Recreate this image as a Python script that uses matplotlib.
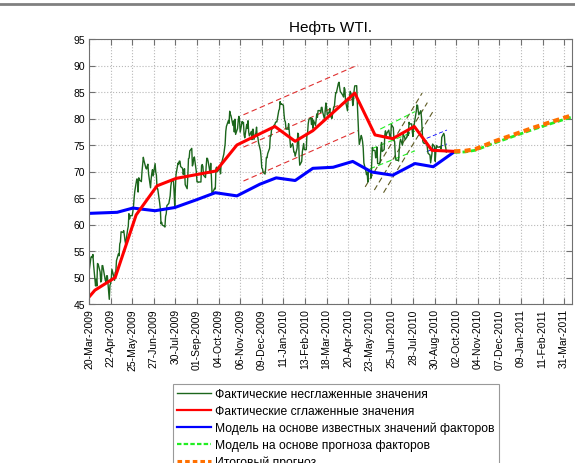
import numpy as np
import pandas as pd
import matplotlib
matplotlib.use('Agg')
import matplotlib.pyplot as plt
from matplotlib.lines import Line2D

plt.rcParams['font.family'] = ['Liberation Sans', 'DejaVu Sans']

title = 'Нефть WTI.'
start_date = '2009-03-20'

# daily (business-day) unsmoothed prices from 20-Mar-2009
wti_unsmoothed = [
    51.06,
    53.80, 53.98, 53.77, 54.34, 52.38,
    48.41, 49.66, 48.39, 52.64, 52.51,
    51.05, 49.15, 49.38, 52.24, 52.24,
    50.05, 49.41, 49.25, 50.33, 50.33,
    45.88, 48.55, 48.86, 49.62, 51.55,
    50.14, 49.49, 50.97, 51.12, 53.20,
    54.47, 54.11, 56.34, 56.71, 58.63,
    58.50, 58.85, 58.02, 56.98, 56.34,
    59.03, 59.65, 62.04, 61.05, 61.67,
    61.67, 62.45, 63.45, 65.08, 66.31,
    68.58, 68.55, 66.12, 68.81, 68.44,
    68.09, 70.01, 71.33, 72.68, 72.04,
    70.62, 70.47, 71.03, 71.37, 69.55,
    66.93, 68.67, 69.66, 70.34, 69.16,
    71.49, 69.89, 69.31, 66.73, 66.73,
    64.05, 62.93, 60.14, 60.41, 59.89,
    59.69, 59.52, 61.54, 62.02, 63.56,
    63.98, 64.72, 65.40, 67.20, 68.05,
    68.38, 66.13, 63.35, 66.94, 69.45,
    71.58, 71.42, 71.97, 71.94, 70.93,
    70.60, 69.45, 70.16, 70.52, 67.51,
    66.75, 69.19, 72.42, 72.54, 73.89,
    74.37, 71.05, 71.43, 72.49, 72.74,
    69.96, 68.05, 68.05, 67.96, 68.02,
    68.02, 71.10, 71.31, 70.94, 69.29,
    68.86, 70.93, 72.51, 72.47, 71.95,
    69.71, 71.55, 68.97, 65.89, 66.02,
    66.84, 66.71, 70.61, 70.82, 69.95,
    70.41, 70.88, 69.57, 71.69, 71.77,
    73.27, 74.15, 75.18, 77.58, 78.53,
    79.61, 79.09, 81.37, 80.81, 80.50,
    78.68, 79.55, 77.46, 79.87, 77.00,
    78.13, 79.60, 80.40, 79.62, 77.43,
    79.43, 79.05, 79.28, 76.94, 76.35,
    78.90, 78.14, 79.58, 77.46, 76.72,
    77.56, 76.02, 77.96, 77.96, 76.05,
    77.28, 78.37, 76.60, 76.46, 75.47,
    73.93, 72.62, 70.67, 70.54, 69.87,
    69.51, 70.69, 72.66, 72.58, 73.36,
    74.40, 76.67, 76.67, 78.05, 78.05,
    78.77, 78.87, 79.28, 79.36, 79.36,
    81.51, 81.77, 83.18, 82.66, 82.75,
    82.52, 80.79, 79.65, 79.39, 78.00,
    78.00, 79.02, 77.62, 76.08, 74.54,
    75.26, 74.71, 73.67, 73.64, 72.89,
    74.43, 77.23, 76.98, 73.14, 71.19,
    71.89, 73.75, 74.52, 75.28, 74.13,
    74.13, 77.01, 77.33, 79.06, 79.81,
    80.16, 78.86, 80.00, 78.17, 79.66,
    78.70, 79.68, 80.87, 80.21, 81.50,
    81.49, 81.16, 82.09, 82.11, 81.24,
    79.80, 81.70, 82.93, 82.20, 80.68,
    81.25, 81.91, 80.31, 80.81, 80.00,
    82.17, 82.37, 83.76, 84.87, 84.87,
    86.62, 86.84, 85.84, 85.06, 84.92,
    84.34, 84.05, 85.84, 85.51, 83.24,
    81.45, 83.85, 83.68, 83.70, 85.12,
    84.20, 82.44, 83.22, 85.17, 86.15,
    86.19, 82.74, 79.97, 77.11, 75.11,
    76.80, 76.37, 75.65, 74.38, 71.61,
    70.08, 69.41, 69.87, 68.01, 70.04,
    70.21, 68.75, 71.51, 74.55, 73.97,
    73.97, 72.58, 72.86, 74.61, 71.51,
    71.44, 71.99, 74.38, 75.48, 73.78,
    74.12, 76.94, 77.67, 76.72, 77.18,
    77.81, 77.12, 76.35, 76.51, 78.86,
    78.26, 75.94, 75.63, 72.95, 72.14,
    72.14, 71.98, 74.07, 75.45, 76.09,
    74.96, 77.05, 76.71, 76.62, 76.00,
    76.54, 77.50, 76.80, 79.29, 78.98,
    78.98, 77.50, 76.60, 78.36, 78.95,
    81.34, 82.55, 82.49, 81.47, 80.70,
    81.48, 80.25, 78.02, 75.74, 75.39,
    75.24, 75.77, 75.42, 74.43, 73.46,
    73.10, 71.63, 72.52, 73.36, 75.17,
    74.70, 71.92, 73.91, 74.91, 74.60,
    74.60, 74.66, 74.65, 74.25, 76.45,
    77.19, 76.80, 75.02, 74.57, 73.66,
]

# smoothed actual values (day offsets from start)
smooth_days = [0, 9, 40, 72, 104, 133, 194, 226, 284, 315, 342, 406, 437, 464, 497, 524, 558]
smooth_vals = [46.3, 47.6, 50.0, 61.8, 67.3, 68.7, 70.1, 75.0, 78.5, 75.7, 77.7, 84.8, 76.9, 76.2, 78.5, 74.0, 73.8]

# model on known factor values
model_days = [0, 43, 67, 101, 131, 165, 193, 226, 261, 286, 315, 342, 373, 403, 432, 464, 498, 526, 558]
model_vals = [62.1, 62.3, 63.1, 62.6, 63.2, 64.7, 66.0, 65.4, 67.6, 68.8, 68.3, 70.6, 70.8, 71.9, 69.9, 69.3, 71.5, 70.9, 73.7]

# forecasts
forecast_days = [558, 575, 590, 620, 650, 680, 710, 738]
forecast_final = [73.8, 73.9, 74.2, 75.7, 77.0, 78.3, 79.5, 80.6]
forecast_factor = [73.6, 73.7, 74.0, 75.4, 76.7, 78.0, 79.2, 80.3]

# trend channels: x range per line (days) and y values per line
red_ch_days = [[236, 411], [236, 411], [236, 411]]
red_ch_lines = [[80.7, 90.1], [74.6, 84.1], [68.2, 77.7]]
olive_ch_days = [[422, 509], [436, 517], [450, 525]]
olive_ch_lines = [[67.1, 84.8], [66.5, 83.0], [66.0, 81.2]]
lime_ch_days = [[445, 498], [432, 498], [429, 498]]
lime_ch_lines = [[78.0, 81.3], [74.3, 77.6], [70.5, 73.9]]
blue_ch_days = [[516, 547], [516, 547]]
blue_ch_lines = [[73.75, 75.2], [76.26, 77.83]]

tick_labels = ['20-Mar-2009', '22-Apr-2009', '25-May-2009', '27-Jun-2009', '30-Jul-2009',
               '01-Sep-2009', '04-Oct-2009', '06-Nov-2009', '09-Dec-2009', '11-Jan-2010',
               '13-Feb-2010', '18-Mar-2010', '20-Apr-2010', '23-May-2010', '25-Jun-2010',
               '28-Jul-2010', '30-Aug-2010', '02-Oct-2010', '04-Nov-2010', '07-Dec-2010',
               '09-Jan-2011', '11-Feb-2011', '31-Mar-2011']
tick_step_days = 33
y_ticks = [45, 50, 55, 60, 65, 70, 75, 80, 85, 90, 95]

legend_labels = ['Фактические несглаженные значения',
                 'Фактические сглаженные значения',
                 'Модель на основе известных значений факторов',
                 'Модель на основе прогноза факторов',
                 'Итоговый прогноз']

# ---------------------------------------------------------------
fig = plt.figure(figsize=(5.75, 4.64), dpi=100)
ax = fig.add_axes([89/575, (464-305)/464, 483/575, 265/464])

dates = pd.bdate_range(start_date, periods=len(wti_unsmoothed))
x_raw = (dates - pd.Timestamp(start_date)).days.values

c_green = '#1c661c'
c_red = '#ff0000'
c_blue = '#0000ff'
c_lime = '#22ee22'
c_orange = '#ff7000'
c_olive = '#5e5a22'

# channels
for xs, ys in zip(red_ch_days, red_ch_lines):
    ax.plot(xs, ys, color='#e03030', lw=0.8, ls=(0, (5, 3)))
for xs, ys in zip(olive_ch_days, olive_ch_lines):
    ax.plot(xs, ys, color=c_olive, lw=0.8, ls=(0, (5, 3)))
for xs, ys in zip(lime_ch_days, lime_ch_lines):
    ax.plot(xs, ys, color=c_lime, lw=0.8, ls=(0, (5, 3)))
for xs, ys in zip(blue_ch_days, blue_ch_lines):
    ax.plot(xs, ys, color=c_blue, lw=0.6, ls=(0, (5, 3)))

l1, = ax.plot(x_raw, wti_unsmoothed, color=c_green, lw=1.0)
l3, = ax.plot(model_days, model_vals, color=c_blue, lw=2.2)
l2, = ax.plot(smooth_days, smooth_vals, color=c_red, lw=2.2)
l4, = ax.plot(forecast_days, forecast_factor, color=c_lime, lw=2.0, ls=(0, (2, 1)))
l5, = ax.plot(forecast_days, forecast_final, color=c_orange, lw=3.0, ls=(0, (1.5, 1)))

ax.set_xlim(0, 738)
ax.set_ylim(45, 95)
ax.set_yticks(y_ticks)
xt = [i * tick_step_days for i in range(len(tick_labels))]
ax.set_xticks(xt)
ax.set_xticklabels(tick_labels, rotation=90, fontsize=7.5)
ax.set_yticklabels([str(v) for v in y_ticks], fontsize=7.5)
ax.tick_params(direction='in', length=4, top=True, right=True, color='#707070', pad=3)
for s in ax.spines.values():
    s.set_color('#707070')
    s.set_linewidth(0.8)
ax.grid(True, ls=':', color='#b8b8b8', lw=0.8)
ax.set_title(title, fontsize=11, pad=6)

h_green = Line2D([], [], color=c_green, lw=1.0)
h_red = Line2D([], [], color=c_red, lw=1.6)
h_blue = Line2D([], [], color=c_blue, lw=1.6)
h_lime = Line2D([], [], color=c_lime, lw=1.6, ls=(0, (2, 1)))
h_orange = Line2D([], [], color=c_orange, lw=2.2, ls=(0, (1.5, 1)))
leg = fig.legend([h_green, h_red, h_blue, h_lime, h_orange], legend_labels,
                 loc='upper left', bbox_to_anchor=(172.5/575, 1 - 384.5/464),
                 fontsize=8.7, frameon=True, fancybox=False, handlelength=2.8,
                 handletextpad=0.35, borderpad=0.38, labelspacing=0.4,
                 borderaxespad=0)
leg.get_frame().set_edgecolor('#808080')
leg.get_frame().set_linewidth(0.8)

fig.add_artist(Line2D([0, 1], [1 - 5/464, 1 - 5/464], transform=fig.transFigure,
                      color='#808080', lw=2))

fig.savefig('out.png', dpi=100)
